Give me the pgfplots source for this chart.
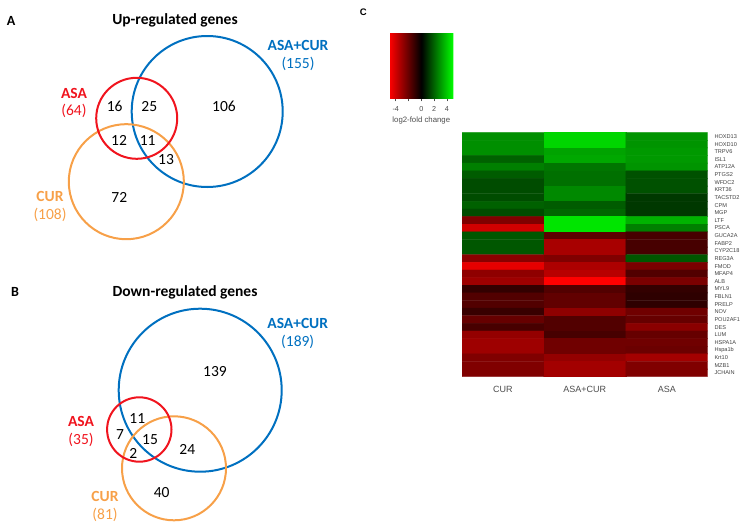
\documentclass[border=0pt]{standalone}
\usepackage{pgfplots}
\usepackage{pgfplotstable}
\pgfplotsset{compat=1.18}
\usepackage{fontspec}
\setmainfont{Carlito}
\newfontfamily\arial{Liberation Sans}
\definecolor{vblue}{RGB}{0,112,192}
\definecolor{vred}{RGB}{240,20,30}
\definecolor{vorange}{RGB}{247,160,72}

\pgfplotstableread{
x y lab
114.7 106.7 16
149.3 106.7 25
224 106 106
119 140 12
147.7 141 11
166 160 13
119.3 197.7 72
}\upnums

\pgfplotstableread{
x y lab
215 371.7 139
137.3 418.3 11
120 435 7
150 440 15
133.3 453.3 2
187.3 449.3 24
161.7 492.7 40
}\downnums

\pgfplotstableread{
x y v
0 0 2.8
1 0 4.2
2 0 2.9
0 1 2.8
1 1 4.2
2 1 2.9
0 2 2.8
1 2 3.2
2 2 3.0
0 3 1.9
1 3 3.3
2 3 3.0
0 4 2.5
1 4 2.3
2 4 2.9
0 5 1.8
1 5 2.2
2 5 1.6
0 6 1.5
1 6 2.2
2 6 1.6
0 7 1.5
1 7 2.7
2 7 1.6
0 8 1.5
1 8 2.7
2 8 1.1
0 9 1.9
1 9 1.8
2 9 1.1
0 10 1.5
1 10 2.0
2 10 1.1
0 11 -2.5
1 11 4.5
2 11 3.5
0 12 -4.1
1 12 4.5
2 12 2.5
0 13 1.7
1 13 -1.8
2 13 -1.4
0 14 1.7
1 14 -3.3
2 14 -1.4
0 15 1.7
1 15 -3.3
2 15 -1.4
0 16 -2.7
1 16 -2.5
2 16 1.7
0 17 -4.5
1 17 -3.4
2 17 -2.4
0 18 -2.8
1 18 -3.6
2 18 -1.6
0 19 -3.1
1 19 -5.0
2 19 -2.4
0 20 -1.0
1 20 -1.6
2 20 -1.0
0 21 -1.6
1 21 -1.9
2 21 -0.9
0 22 -1.6
1 22 -1.9
2 22 -0.9
0 23 -1.1
1 23 -2.8
2 23 -2.2
0 24 -2.0
1 24 -1.6
2 24 -2.0
0 25 -1.4
1 25 -1.6
2 25 -2.7
0 26 -2.9
1 26 -1.4
2 26 -2.0
0 27 -3.1
1 27 -2.2
2 27 -2.2
0 28 -3.1
1 28 -2.2
2 28 -2.1
0 29 -2.5
1 29 -2.9
2 29 -3.2
0 30 -2.5
1 30 -3.2
2 30 -2.5
0 31 -2.5
1 31 -3.2
2 31 -2.5
}\heat

\begin{document}
\begin{tikzpicture}
\useasboundingbox (0,0) rectangle (754pt,530pt);
% ---------------- Venn canvas ----------------
\begin{axis}[at={(0,0)}, anchor=south west, scale only axis,
  width=754pt, height=530pt, xmin=0, xmax=754, ymin=0, ymax=530,
  y dir=reverse, axis line style={draw=none}, ticks=none, clip=false]
% Up-regulated circles
\addplot[only marks, mark=o, mark size=75.5pt, mark options={draw=vblue, line width=2pt}] coordinates {(207.2,111.5)};
\addplot[only marks, mark=o, mark size=57.5pt, mark options={draw=vorange, line width=2pt}] coordinates {(126.3,181.7)};
\addplot[only marks, mark=o, mark size=40.5pt, mark options={draw=vred, line width=2pt}] coordinates {(136.7,118.3)};
% Down-regulated circles
\addplot[only marks, mark=o, mark size=81.5pt, mark options={draw=vblue, line width=2pt}] coordinates {(200.2,390.2)};
\addplot[only marks, mark=o, mark size=52pt, mark options={draw=vorange, line width=2pt}] coordinates {(174,468.3)};
\addplot[only marks, mark=o, mark size=32.2pt, mark options={draw=vred, line width=2pt}] coordinates {(139.3,429.5)};
% numbers
\addplot[only marks, mark=*, mark size=0pt, mark options={draw=none, fill=none},
  nodes near coords, point meta=explicit symbolic,
  every node near coord/.append style={anchor=center, inner sep=0pt, font=\fontsize{15.5}{18}\selectfont}]
  table[x=x, y=y, meta=lab] {\upnums};
\addplot[only marks, mark=*, mark size=0pt, mark options={draw=none, fill=none},
  nodes near coords, point meta=explicit symbolic,
  every node near coord/.append style={anchor=center, inner sep=0pt, font=\fontsize{15.5}{18}\selectfont}]
  table[x=x, y=y, meta=lab] {\downnums};
% titles and labels
\node[font=\bfseries\fontsize{14}{16}\selectfont] at (axis cs:11,20.7) {A};
\node[font=\bfseries\fontsize{15.5}{18}\selectfont] at (axis cs:175,20.7) {Up-regulated genes};
\node[font=\bfseries\fontsize{14}{16}\selectfont] at (axis cs:15,292.3) {B};
\node[font=\bfseries\fontsize{15.5}{18}\selectfont] at (axis cs:185,292.3) {Down-regulated genes};
\node[font=\arial\bfseries\fontsize{9.5}{11}\selectfont] at (axis cs:363.3,12.3) {C};

\node[font=\fontsize{15.5}{17.6}\selectfont, text=vblue, align=center] at (axis cs:298,55.5) {\textbf{ASA+CUR}\\(155)};
\node[font=\fontsize{15.5}{17.6}\selectfont, text=vred, align=center] at (axis cs:74,103) {\textbf{ASA}\\(64)};
\node[font=\fontsize{15.5}{17.6}\selectfont, text=vorange, align=center] at (axis cs:50,206.2) {\textbf{CUR}\\(108)};

\node[font=\fontsize{15.5}{17.6}\selectfont, text=vblue, align=center] at (axis cs:297.7,333.3) {\textbf{ASA+CUR}\\(189)};
\node[font=\fontsize{15.5}{17.6}\selectfont, text=vred, align=center] at (axis cs:81,431.5) {\textbf{ASA}\\(35)};
\node[font=\fontsize{15.5}{17.6}\selectfont, text=vorange, align=center] at (axis cs:105,506.2) {\textbf{CUR}\\(81)};
\end{axis}

% ---------------- Heatmap ----------------
\begin{axis}[at={(462pt,153.3pt)}, anchor=south west, scale only axis,
  width=245.7pt, height=244pt,
  xmin=-0.5, xmax=2.5, ymin=-0.5, ymax=31.5, y dir=reverse, enlargelimits=false,
  axis line style={draw=none}, major tick length=0pt,
  xtick={0,1,2}, xticklabels={CUR,ASA+CUR,ASA},
  ytick={0,...,31},
  yticklabels={HOXD13,HOXD10,TRPV6,ISL1,ATP12A,PTGS2,WFDC2,KRT36,TACSTD2,CPM,MGP,LTF,PSCA,GUCA2A,FABP2,CYP2C18,REG3A,FMOD,MFAP4,ALB,MYL9,FBLN1,PRELP,NOV,POU2AF1,DES,LUM,HSPA1A,Hspa1b,Krt10,MZB1,JCHAIN},
  yticklabel pos=right,
  xticklabel style={font=\arial\fontsize{9}{10}\selectfont, text=black!70, inner sep=0pt, anchor=north, yshift=-9.4pt},
  yticklabel style={font=\arial\fontsize{5.6}{6}\selectfont, text=black!75, inner sep=0pt, anchor=west, xshift=6.6pt},
  colormap={rbg}{rgb255=(255,0,0) rgb255=(0,0,0) rgb255=(0,255,0)},
  point meta min=-5, point meta max=5,
  colorbar horizontal,
  colorbar/width=65pt,
  colorbar style={
    at={(parent axis.north west)}, anchor=south west, xshift=-72.7pt, yshift=42.4pt,
    scale only axis, width=64pt,
    axis line style={draw=none},
    xtick={-4,-2,0,2,4}, xticklabels={-4,,0,2,4},
    xtick pos=lower, xticklabel pos=lower, xtick align=outside,
    major tick length=2.5pt, tick style={black!70, line width=0.5pt},
    xticklabel style={font=\arial\fontsize{7.2}{8}\selectfont, text=black!70, yshift=-2pt},
    xlabel={log2-fold change},
    xlabel style={font=\arial\fontsize{7.8}{8}\selectfont, text=black!70, yshift=1.5pt},
  }]
\addplot[matrix plot*, mesh/cols=3, point meta=explicit] table[x=x, y=y, meta=v] {\heat};
\end{axis}
\end{tikzpicture}
\end{document}
